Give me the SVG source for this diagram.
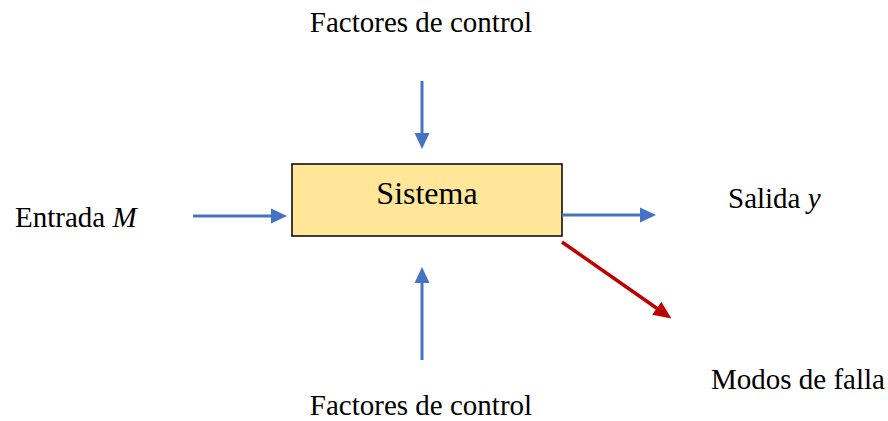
<svg xmlns="http://www.w3.org/2000/svg" width="888" height="421" viewBox="0 0 888 421">
  <style>
    .lbl { font-family: "Liberation Serif", "Times New Roman", serif; font-size: 29px; fill: #000; }
    .title { font-size: 32px; }
    .it { font-style: italic; }
    .blue { stroke: #4472C4; stroke-width: 3; fill: none; }
    .red { stroke: #C00000; stroke-width: 3.5; fill: none; }
  </style>
  <defs>
    <marker id="headBlue" markerUnits="userSpaceOnUse" markerWidth="16" markerHeight="16" refX="4" refY="8" orient="auto">
      <path d="M0,0.5 L16,8 L0,15.5 z" fill="#4472C4"/>
    </marker>
    <marker id="headRed" markerUnits="userSpaceOnUse" markerWidth="18" markerHeight="18" refX="4" refY="9" orient="auto">
      <path d="M0,1 L18,9 L0,17 z" fill="#C00000"/>
    </marker>
  </defs>

  <rect width="888" height="421" fill="#fff"/>

  <g id="sistema">
    <rect x="292" y="164" width="270" height="72" fill="#FFE699" stroke="#000" stroke-width="1.5"/>
    <text class="lbl title" x="427" y="204" text-anchor="middle">Sistema</text>
  </g>

  <g id="control-top">
    <text class="lbl" x="421" y="32" text-anchor="middle">Factores de control</text>
  </g>
  <g id="control-bottom">
    <text class="lbl" x="421" y="415" text-anchor="middle">Factores de control</text>
  </g>
  <g id="entrada">
    <text class="lbl" x="15" y="227">Entrada <tspan class="it">M</tspan></text>
  </g>
  <g id="salida">
    <text class="lbl" x="728" y="208">Salida <tspan class="it">y</tspan></text>
  </g>
  <g id="modos">
    <text class="lbl" x="711" y="389">Modos de falla</text>
  </g>

  <g id="connectors">
    <line class="blue" x1="193" y1="216" x2="275" y2="216" marker-end="url(#headBlue)"/>
    <line class="blue" x1="562" y1="215" x2="644" y2="215" marker-end="url(#headBlue)"/>
    <line class="blue" x1="422" y1="81" x2="422" y2="137" marker-end="url(#headBlue)"/>
    <line class="blue" x1="422" y1="360" x2="422" y2="279" marker-end="url(#headBlue)"/>
    <line class="red" x1="562" y1="242" x2="660" y2="310.5" marker-end="url(#headRed)"/>
  </g>
</svg>
